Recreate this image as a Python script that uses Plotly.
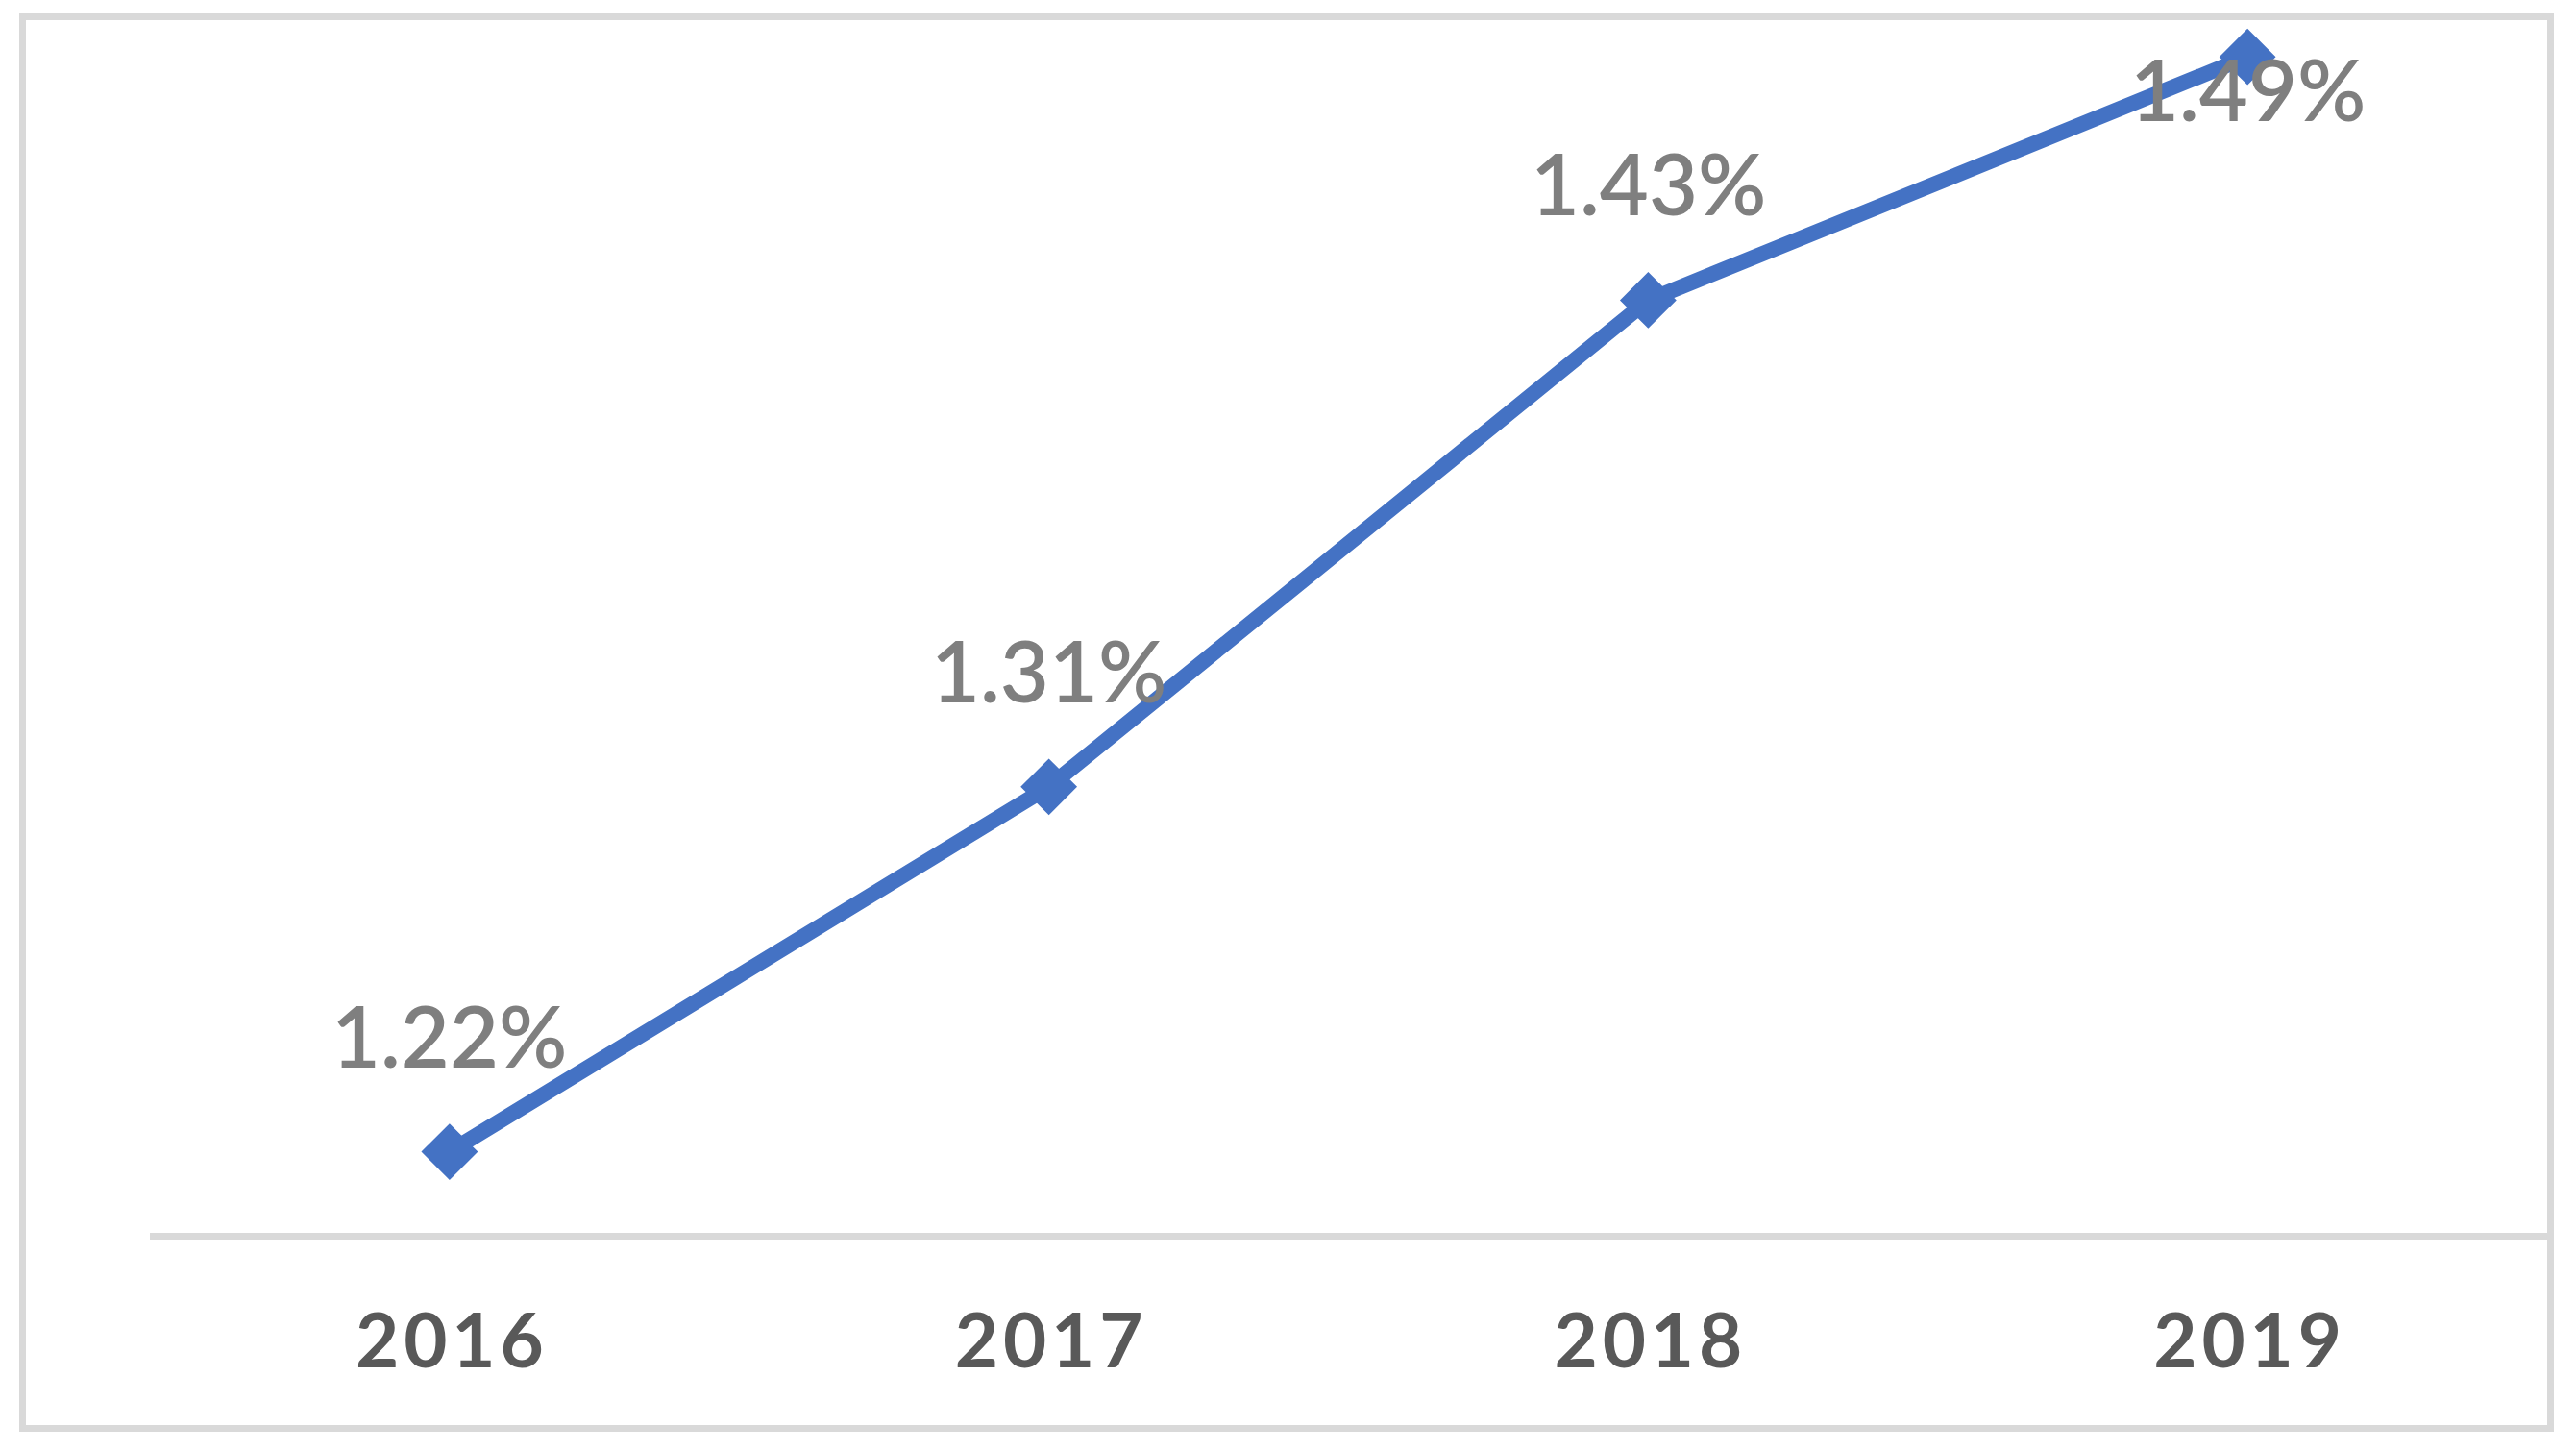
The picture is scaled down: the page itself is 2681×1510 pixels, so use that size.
import plotly.graph_objects as go

years = ["2016", "2017", "2018", "2019"]
rates = [1.22, 1.31, 1.43, 1.49]
labels = ["1.22%", "1.31%", "1.43%", "1.49%"]
label_shift = [122, 122, 122, -33]

HS = "\u200a"
tick_text = [HS.join(list(y)) for y in years]

W, H = 2681, 1510
ml, mr, mt, mb = 156, 30, 17, 227
pw, ph = W - ml - mr, H - mt - mb

fig = go.Figure()
fig.add_trace(go.Scatter(
    x=years, y=rates, mode="lines+markers",
    line=dict(color="#4472c4", width=16),
    marker=dict(symbol="diamond", size=42, color="#4472c4",
                line=dict(color="#4472c4", width=3)),
    cliponaxis=False, hoverinfo="skip", showlegend=False,
))

for i, (v, t, s) in enumerate(zip(rates, labels, label_shift)):
    fig.add_annotation(x=i, y=v, xref="x", yref="y", text=t, showarrow=False,
                       yshift=s,
                       font=dict(family="Lato", size=88, color="#7f7f7f", weight=600))

def px_x(p):
    return (p - ml) / pw

def px_y(p):
    return (H - mb - p) / ph

fig.add_shape(type="rect", xref="paper", yref="paper",
              x0=px_x(23.5), x1=px_x(2654.5), y0=px_y(1486.5), y1=px_y(17.5),
              line=dict(color="#d9d9d9", width=7), layer="below")

fig.update_layout(
    width=W, height=H,
    margin=dict(l=ml, r=mr, t=mt, b=mb),
    paper_bgcolor="white", plot_bgcolor="white",
    xaxis=dict(type="category", range=[-0.5, 3.5], showgrid=False,
               showline=True, linecolor="#d9d9d9", linewidth=7,
               ticks="", tickvals=years, ticktext=tick_text,
               tickfont=dict(family="Lato", size=78, color="#595959", weight="bold"),
               ticklabelstandoff=39, zeroline=False),
    yaxis=dict(range=[1.20, 1.50], visible=False, showgrid=False, zeroline=False),
)

fig.write_html("out.html", config={"displayModeBar": False},
               post_script="document.body.style.margin='0';")
